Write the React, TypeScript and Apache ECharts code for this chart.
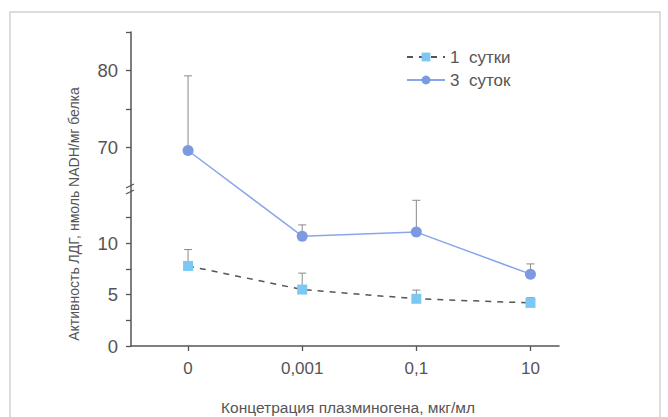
import React, { useEffect, useRef } from "react";
import * as echarts from "echarts";

// ---- data ----
const categories = ["0", "0,001", "0,1", "10"];
const seriesNames = ["1  сутки", "3  суток"];
const day1Mean = [7.8, 5.5, 4.6, 4.2];
const day1Err = [1.6, 1.6, 0.85, 0.5];
const day3Mean = [69.6, 10.7, 11.1, 7.0];
const day3Err = [9.7, 1.1, 3.1, 1.0];
const yMajorLow = [0, 5, 10];
const yMajorHigh = [70, 80];
const yMinor = [2.5, 7.5, 12.5, 75, 85];
const xAxisTitle = "Концетрация плазминогена, мкг/мл";
const yAxisTitle = "Активность ЛДГ, нмоль NADH/мг белка";

// ---- broken axis definition ----
const LOW_MAX = 15;
const HIGH_MIN = 65;
const HIGH_MAX = 85;
const HIGH_SCALE = 0.75;
const GAP = 0.6;
const toD = (v: number) =>
  v <= LOW_MAX ? v : LOW_MAX + GAP + (v - HIGH_MIN) * HIGH_SCALE;
const fromD = (d: number) =>
  d <= LOW_MAX + GAP / 2 ? d : HIGH_MIN + (d - LOW_MAX - GAP) / HIGH_SCALE;

const FONT = "'Liberation Sans', Arial, Helvetica, sans-serif";
const AXIS_COLOR = "#555";
const TEXT_COLOR = "#555";

export default function App() {
  const ref = useRef<HTMLDivElement>(null);
  useEffect(() => {
    if (!ref.current) return;
    const chart = echarts.init(ref.current, null, { renderer: "svg" });

    const errData = (means: number[], errs: number[]) =>
      means.map((m, i) => [i, toD(m), toD(m + errs[i])]);

    const errSeries = (means: number[], errs: number[]) => ({
      type: "custom",
      silent: true,
      z: 1,
      clip: false,
      data: errData(means, errs),
      renderItem: (params: any, api: any) => {
        const x = api.value(0);
        const p0 = api.coord([x, api.value(1)]);
        const p1 = api.coord([x, api.value(2)]);
        const st = { stroke: "#8a8a8a", lineWidth: 1 };
        return {
          type: "group",
          children: [
            { type: "line", shape: { x1: p0[0], y1: p0[1], x2: p1[0], y2: p1[1] }, style: st },
            { type: "line", shape: { x1: p1[0] - 4, y1: p1[1], x2: p1[0] + 4, y2: p1[1] }, style: st },
          ],
        };
      },
    });

    const breakSeries = {
      type: "custom",
      silent: true,
      z: 5,
      clip: false,
      data: [[-0.5, LOW_MAX + GAP / 2]],
      renderItem: (params: any, api: any) => {
        const p = api.coord([api.value(0), api.value(1)]);
        const st = { stroke: AXIS_COLOR, lineWidth: 1.3 };
        const cx = p[0] - 1;
        return {
          type: "group",
          children: [
            { type: "line", shape: { x1: cx - 4, y1: p[1] - 1, x2: cx + 4, y2: p[1] - 5 }, style: st },
            { type: "line", shape: { x1: cx - 4, y1: p[1] + 5, x2: cx + 4, y2: p[1] + 1 }, style: st },
          ],
        };
      },
    };

    chart.setOption({
      animation: false,
      backgroundColor: "#fff",
      textStyle: { fontFamily: FONT },
      grid: { left: 131, right: 109, top: 32, bottom: 71, containLabel: false },
      legend: {
        data: seriesNames,
        orient: "vertical",
        left: 401,
        top: 42,
        itemWidth: 38,
        itemHeight: 11,
        itemGap: 3,
        textStyle: { fontSize: 17, color: TEXT_COLOR, fontFamily: FONT, lineHeight: 20 },
      },
      xAxis: {
        type: "value",
        min: -0.5,
        max: 3.25,
        splitLine: { show: false },
        axisLine: { show: true, onZero: false, lineStyle: { color: AXIS_COLOR, width: 1.5 } },
        axisTick: { show: true, customValues: [0, 1, 2, 3], length: 5, lineStyle: { color: AXIS_COLOR, width: 1.3 } },
        axisLabel: {
          customValues: [0, 1, 2, 3],
          formatter: (v: number) => categories[Math.round(v)],
          fontSize: 17,
          color: TEXT_COLOR,
          margin: 14,
          fontFamily: FONT,
        },
      },
      yAxis: {
        type: "value",
        min: 0,
        max: toD(HIGH_MAX),
        splitLine: { show: false },
        axisLine: { show: true, onZero: false, lineStyle: { color: AXIS_COLOR, width: 1.5 } },
        axisTick: {
          show: true,
          customValues: [...yMajorLow, ...yMajorHigh, ...yMinor].map(toD),
          length: 5,
          lineStyle: { color: AXIS_COLOR, width: 1.3 },
        },
        axisLabel: {
          customValues: [...yMajorLow, ...yMajorHigh].map(toD),
          formatter: (v: number) => String(Math.round(fromD(v))),
          fontSize: 18.5,
          color: TEXT_COLOR,
          margin: 13,
          fontFamily: FONT,
        },
      },
      graphic: [
        {
          type: "rect",
          silent: true,
          z: -10,
          shape: { x: 10, y: 12, width: 650, height: 430 },
          style: { fill: "none", stroke: "#d2d2d2", lineWidth: 1.5 },
        },
        {
          type: "text",
          x: 74,
          y: 214,
          rotation: Math.PI / 2,
          style: { text: yAxisTitle, fontSize: 14, fill: TEXT_COLOR, align: "center", verticalAlign: "middle", fontFamily: FONT },
        },
        {
          type: "text",
          x: 348,
          y: 407,
          style: { text: xAxisTitle, fontSize: 15.5, fill: TEXT_COLOR, align: "center", verticalAlign: "middle", fontFamily: FONT },
        },
      ],
      series: [
        errSeries(day1Mean, day1Err),
        errSeries(day3Mean, day3Err),
        {
          name: seriesNames[0],
          type: "line",
          z: 3,
          data: day1Mean.map((m, i) => [i, toD(m)]),
          symbol: "rect",
          symbolSize: 10,
          itemStyle: { color: "#7cc8f4" },
          lineStyle: { color: "#555", width: 1.5, type: [6, 6] },
        },
        {
          name: seriesNames[1],
          type: "line",
          z: 3,
          data: day3Mean.map((m, i) => [i, toD(m)]),
          symbol: "circle",
          symbolSize: 11,
          itemStyle: { color: "#7b9ae2" },
          lineStyle: { color: "#89a6ec", width: 1.5 },
        },
        breakSeries,
      ],
    });
    return () => chart.dispose();
  }, []);
  return (
    <div
      ref={ref}
      style={{ position: "fixed", left: 0, top: 0, width: 668, height: 417, background: "#fff" }}
    />
  );
}
